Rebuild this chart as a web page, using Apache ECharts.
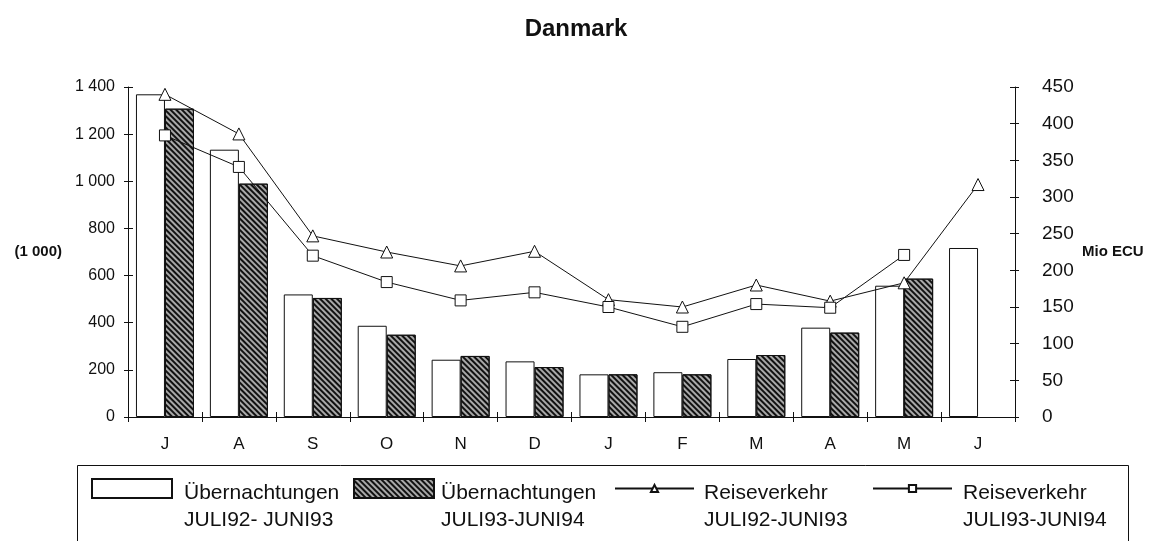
<!DOCTYPE html>
<html>
<head>
<meta charset="utf-8">
<script src="https://cdn.jsdelivr.net/npm/echarts@6/dist/echarts.min.js"></script>
<style>
html,body{margin:0;padding:0;background:#fff;}
#chart{width:1152px;height:541px;}
</style>
</head>
<body>
<div id="chart"></div>
<script>
const titleText = 'Danmark';
const months = ['J','A','S','O','N','D','J','F','M','A','M','J'];
const leftTicks = [0,200,400,600,800,1000,1200,1400];
const rightTicks = [0,50,100,150,200,250,300,350,400,450];
const leftAxisName = '(1 000)';
const rightAxisName = 'Mio ECU';

const nameNights9293 = 'Übernachtungen\nJULI92- JUNI93';
const nameNights9394 = 'Übernachtungen\nJULI93-JUNI94';
const nameTravel9293 = 'Reiseverkehr\nJULI92-JUNI93';
const nameTravel9394 = 'Reiseverkehr\nJULI93-JUNI94';

const nights9293 = [1369,1134,520,387,243,236,181,190,246,379,557,717];
const nights9394 = [1308,990,505,349,259,212,181,181,263,358,587,null];
const travel9293 = [440,386,247,225,206,226,160,150,180,158,183,317];
const travel9394 = [384,341,220,184,159,170,150,123,154,149,221,null];

const FONT = 'Liberation Sans';

function fmtThousands(v){
  const s = String(v);
  return s.length > 3 ? s.slice(0, s.length-3) + ' ' + s.slice(s.length-3) : s;
}

const chart = echarts.init(document.getElementById('chart'), null, {renderer:'canvas'});

const hatchDecal = {
  symbol:'rect', symbolSize:1, dashArrayX:[1,0], dashArrayY:[2,2],
  rotation:Math.PI/4, color:'#111'
};

function legendAt(name, left, padLeft, isLine){
  return {
    data:[{name:name, icon: isLine ? undefined : 'rect'}],
    left:left, top:443.5, padding:0,
    orient:'horizontal',
    itemWidth: isLine ? 79 : 80,
    itemHeight: isLine ? 9 : 19,
    selectedMode:false,
    formatter: function(n){ return '{s| }\n' + n; },
    textStyle:{
      fontFamily:FONT, fontSize:21, color:'#111',
      lineHeight:27, padding:[0,0,0,padLeft],
      rich:{ s:{ fontSize:2, lineHeight:36 } }
    }
  };
}

const option = {
  animation:false,
  backgroundColor:'#fff',
  title:{
    text:titleText, left:'center', top:17, padding:0,
    textStyle:{fontFamily:FONT, fontSize:24, fontWeight:'bold', color:'#111'}
  },
  legend:[
    legendAt(nameNights9293, 91, 7, false),
    legendAt(nameNights9394, 353, 2, false),
    legendAt(nameTravel9293, 614, 5, true),
    legendAt(nameTravel9394, 872, 6, true)
  ],
  graphic:[{
    type:'rect', left:75, top:463, z:-1,
    shape:{width:1051, height:100},
    style:{fill:'none', stroke:'#111', lineWidth:1}
  }],
  grid:{left:128, right:137, top:87, bottom:124},
  xAxis:[{
    type:'category', data:months, position:'bottom',
    axisLine:{lineStyle:{color:'#111', width:1}},
    axisTick:{show:true, length:5, lineStyle:{color:'#111'}},
    axisLabel:{fontFamily:FONT, fontSize:17, color:'#111', margin:19}
  },{
    type:'category', data:months, position:'bottom',
    axisLine:{show:false},
    axisTick:{show:true, inside:true, length:5, lineStyle:{color:'#111'}},
    axisLabel:{show:false}
  }],
  yAxis:[{
    type:'value', position:'left', min:0, max:1400, interval:200,
    name:leftAxisName, nameLocation:'middle', nameRotate:0, nameGap:66,
    nameTextStyle:{fontFamily:FONT, fontSize:15, fontWeight:'bold', color:'#111'},
    axisLine:{show:true, lineStyle:{color:'#111', width:1}},
    axisTick:{show:true, length:4, lineStyle:{color:'#111'}},
    axisLabel:{fontFamily:FONT, fontSize:16, color:'#111', margin:13, formatter:fmtThousands},
    splitLine:{show:false}
  },{
    type:'value', position:'right', min:0, max:450, interval:50,
    name:rightAxisName, nameLocation:'middle', nameRotate:0, nameGap:67,
    nameTextStyle:{fontFamily:FONT, fontSize:15, fontWeight:'bold', color:'#111'},
    axisLine:{show:true, lineStyle:{color:'#111', width:1}},
    axisTick:{show:true, length:4, lineStyle:{color:'#111'}},
    axisLabel:{fontFamily:FONT, fontSize:19, color:'#111', margin:27},
    splitLine:{show:false}
  },{
    type:'value', position:'left', min:0, max:1400, interval:200,
    axisLine:{show:false}, axisLabel:{show:false}, splitLine:{show:false},
    axisTick:{show:true, inside:true, length:5, lineStyle:{color:'#111'}}
  },{
    type:'value', position:'right', min:0, max:450, interval:50,
    axisLine:{show:false}, axisLabel:{show:false}, splitLine:{show:false},
    axisTick:{show:true, inside:true, length:5, lineStyle:{color:'#111'}}
  }],
  series:[{
    name:nameNights9293, type:'bar', xAxisIndex:0, yAxisIndex:0,
    data:nights9293, barWidth:29, barGap:'0%',
    itemStyle:{color:'#fff', borderColor:'#111', borderWidth:1}
  },{
    name:nameNights9394, type:'bar', xAxisIndex:0, yAxisIndex:0,
    data:nights9394, barWidth:29, barGap:'0%',
    itemStyle:{color:'#a8a8a8', borderColor:'#111', borderWidth:1, decal:hatchDecal}
  },{
    name:nameTravel9293, type:'line', xAxisIndex:0, yAxisIndex:1,
    data:travel9293, symbol:'triangle', symbolSize:12, z:5,
    lineStyle:{color:'#111', width:1},
    itemStyle:{color:'#fff', borderColor:'#111', borderWidth:1}
  },{
    name:nameTravel9394, type:'line', xAxisIndex:0, yAxisIndex:1,
    data:travel9394, symbol:'rect', symbolSize:11, z:5,
    lineStyle:{color:'#111', width:1},
    itemStyle:{color:'#fff', borderColor:'#111', borderWidth:1}
  }]
};
chart.setOption(option);
</script>
</body>
</html>
